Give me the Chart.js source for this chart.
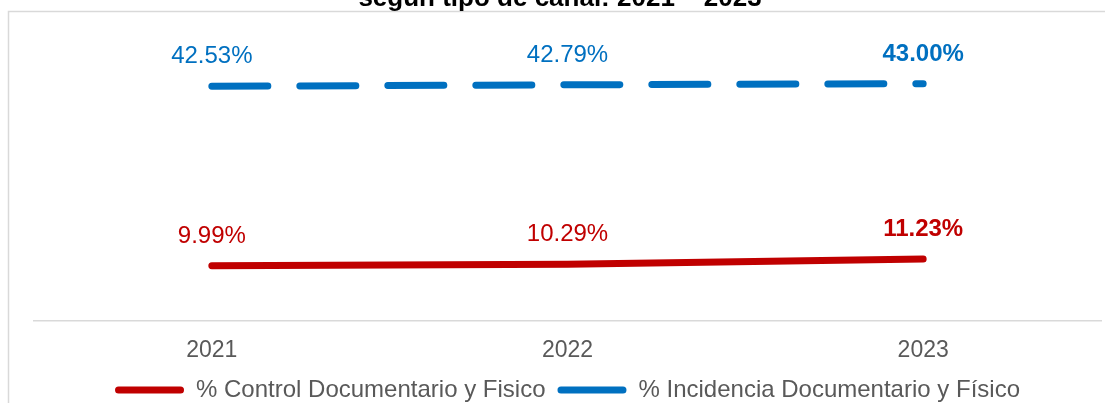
<!DOCTYPE html>
<html>
<head>
<meta charset="utf-8">
<script src="https://cdn.jsdelivr.net/npm/chart.js@4.4.1/dist/chart.umd.min.js"></script>
<style>
  html, body { margin: 0; padding: 0; background: #ffffff; }
  #wrap { width: 1105px; height: 403px; overflow: hidden; }
</style>
</head>
<body>
<div id="wrap"><canvas id="c" width="1105" height="403"></canvas></div>
<script>
const titleText = 'según tipo de canal: 2021 – 2023';
const categories = ['2021', '2022', '2023'];
const controlLabel = '% Control Documentario y Fisico';
const incidenciaLabel = '% Incidencia Documentario y Físico';
const controlValues = [9.99, 10.29, 11.23];
const incidenciaValues = [42.53, 42.79, 43.00];
const yMin = 0;
const yMax = 50;

const FONT = "'Liberation Sans', Arial, sans-serif";
const RED = '#C00000';
const BLUE = '#0070C0';

const frameAndTitle = {
  id: 'frameAndTitle',
  beforeDraw(chart) {
    const ctx = chart.ctx;
    ctx.save();
    ctx.strokeStyle = '#D9D9D9';
    ctx.lineWidth = 1.5;
    ctx.strokeRect(8.5, 11.5, 1110, 420);
    ctx.fillStyle = '#000000';
    ctx.font = 'bold 26px ' + FONT;
    ctx.textAlign = 'center';
    ctx.textBaseline = 'alphabetic';
    ctx.fillText(titleText, 560, 6);
    ctx.restore();
  }
};

const valueLabels = {
  id: 'valueLabels',
  afterDatasetsDraw(chart) {
    const ctx = chart.ctx;
    ctx.save();
    ctx.textAlign = 'center';
    ctx.textBaseline = 'middle';
    chart.data.datasets.forEach((ds, di) => {
      const meta = chart.getDatasetMeta(di);
      meta.data.forEach((pt, i) => {
        const last = i === ds.data.length - 1;
        ctx.font = (last ? 'bold ' : '') + '24px ' + FONT;
        ctx.fillStyle = ds.borderColor;
        ctx.fillText(ds.data[i].toFixed(2) + '%', pt.x, pt.y - 29.5);
      });
    });
    ctx.restore();
  }
};

new Chart(document.getElementById('c'), {
  type: 'line',
  data: {
    labels: categories,
    datasets: [
      {
        label: controlLabel,
        data: controlValues,
        borderColor: RED,
        backgroundColor: RED,
        borderWidth: 7,
        borderCapStyle: 'round',
        borderJoinStyle: 'round',
        pointRadius: 0,
        pointHoverRadius: 0,
        tension: 0,
        clip: false
      },
      {
        label: incidenciaLabel,
        data: incidenciaValues,
        borderColor: BLUE,
        backgroundColor: BLUE,
        borderWidth: 7,
        borderDash: [56, 32],
        borderCapStyle: 'round',
        borderJoinStyle: 'round',
        pointRadius: 0,
        pointHoverRadius: 0,
        tension: 0,
        clip: false
      }
    ]
  },
  options: {
    responsive: false,
    animation: false,
    events: [],
    layout: { padding: { top: 45, left: 34, right: 4, bottom: -9 } },
    scales: {
      x: {
        offset: true,
        grid: { display: false, drawTicks: false },
        border: { display: true, color: '#D9D9D9', width: 1.5 },
        ticks: {
          color: '#595959',
          font: { family: FONT, size: 23 },
          padding: 16
        },
        afterFit(scale) { scale.height = 45; }
      },
      y: {
        display: false,
        min: yMin,
        max: yMax
      }
    },
    plugins: {
      title: { display: false },
      tooltip: { enabled: false },
      legend: {
        display: true,
        position: 'bottom',
        labels: {
          color: '#595959',
          font: { family: FONT, size: 24 },
          boxWidth: 69,
          boxHeight: 7,
          padding: 12,
          useBorderRadius: true,
          borderRadius: 3.5,
          generateLabels(chart) {
            const items = Chart.defaults.plugins.legend.labels.generateLabels(chart);
            return items.map(it => Object.assign(it, {
              fillStyle: it.strokeStyle,
              lineWidth: 0,
              lineDash: [],
              borderRadius: 3.5
            }));
          }
        }
      }
    }
  },
  plugins: [frameAndTitle, valueLabels]
});
</script>
</body>
</html>
